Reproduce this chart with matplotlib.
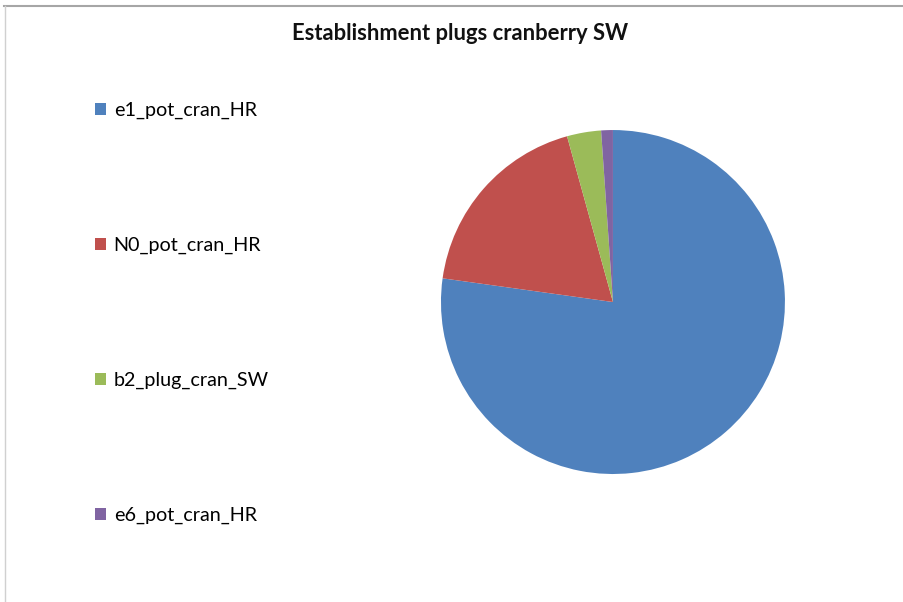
import matplotlib.pyplot as plt
from matplotlib.lines import Line2D
from matplotlib.patches import Patch

# pie shares (percent)
labels = ["e1_pot_cran_HR", "N0_pot_cran_HR", "b2_plug_cran_SW", "e6_pot_cran_HR"]
shares = [77.2, 18.5, 3.2, 1.1]
colours = ["#4F81BD", "#C0504D", "#9BBB59", "#8064A2"]
title = "Establishment plugs cranberry SW"

plt.rcParams["font.family"] = ["Lato", "DejaVu Sans"]

fig = plt.figure(figsize=(9.04, 6.02), dpi=100)

# pie, centred at about (613, 302) px with radius 172 px
ax = fig.add_axes([0.4878, 0.2126, 0.3805, 0.5714])
ax.pie(shares, colors=colours, startangle=90, counterclock=False,
       wedgeprops=dict(linewidth=0))
ax.set_xlim(-1, 1)
ax.set_ylim(-1, 1)
ax.set_aspect("equal")

fig.text(0.509, 0.945, title, ha="center", va="center",
         fontsize=15.8, fontweight="bold", color="#111111")

handles = [Patch(facecolor=c, edgecolor="none") for c in colours]
fig.legend(handles, labels, loc="upper left", bbox_to_anchor=(0.105, 0.831),
           frameon=False, fontsize=14.2, labelspacing=5.97,
           handlelength=0.55, handleheight=0.55, handletextpad=0.4,
           borderpad=0, borderaxespad=0)

# grey border at top and left of the chart area
fig.add_artist(Line2D([0.004, 1.0], [0.99, 0.99], color="#a6a6a6", lw=1.5))
fig.add_artist(Line2D([0.005, 0.005], [0.0, 0.99], color="#d0d0d0", lw=1))

fig.savefig("out.png", dpi=100)
